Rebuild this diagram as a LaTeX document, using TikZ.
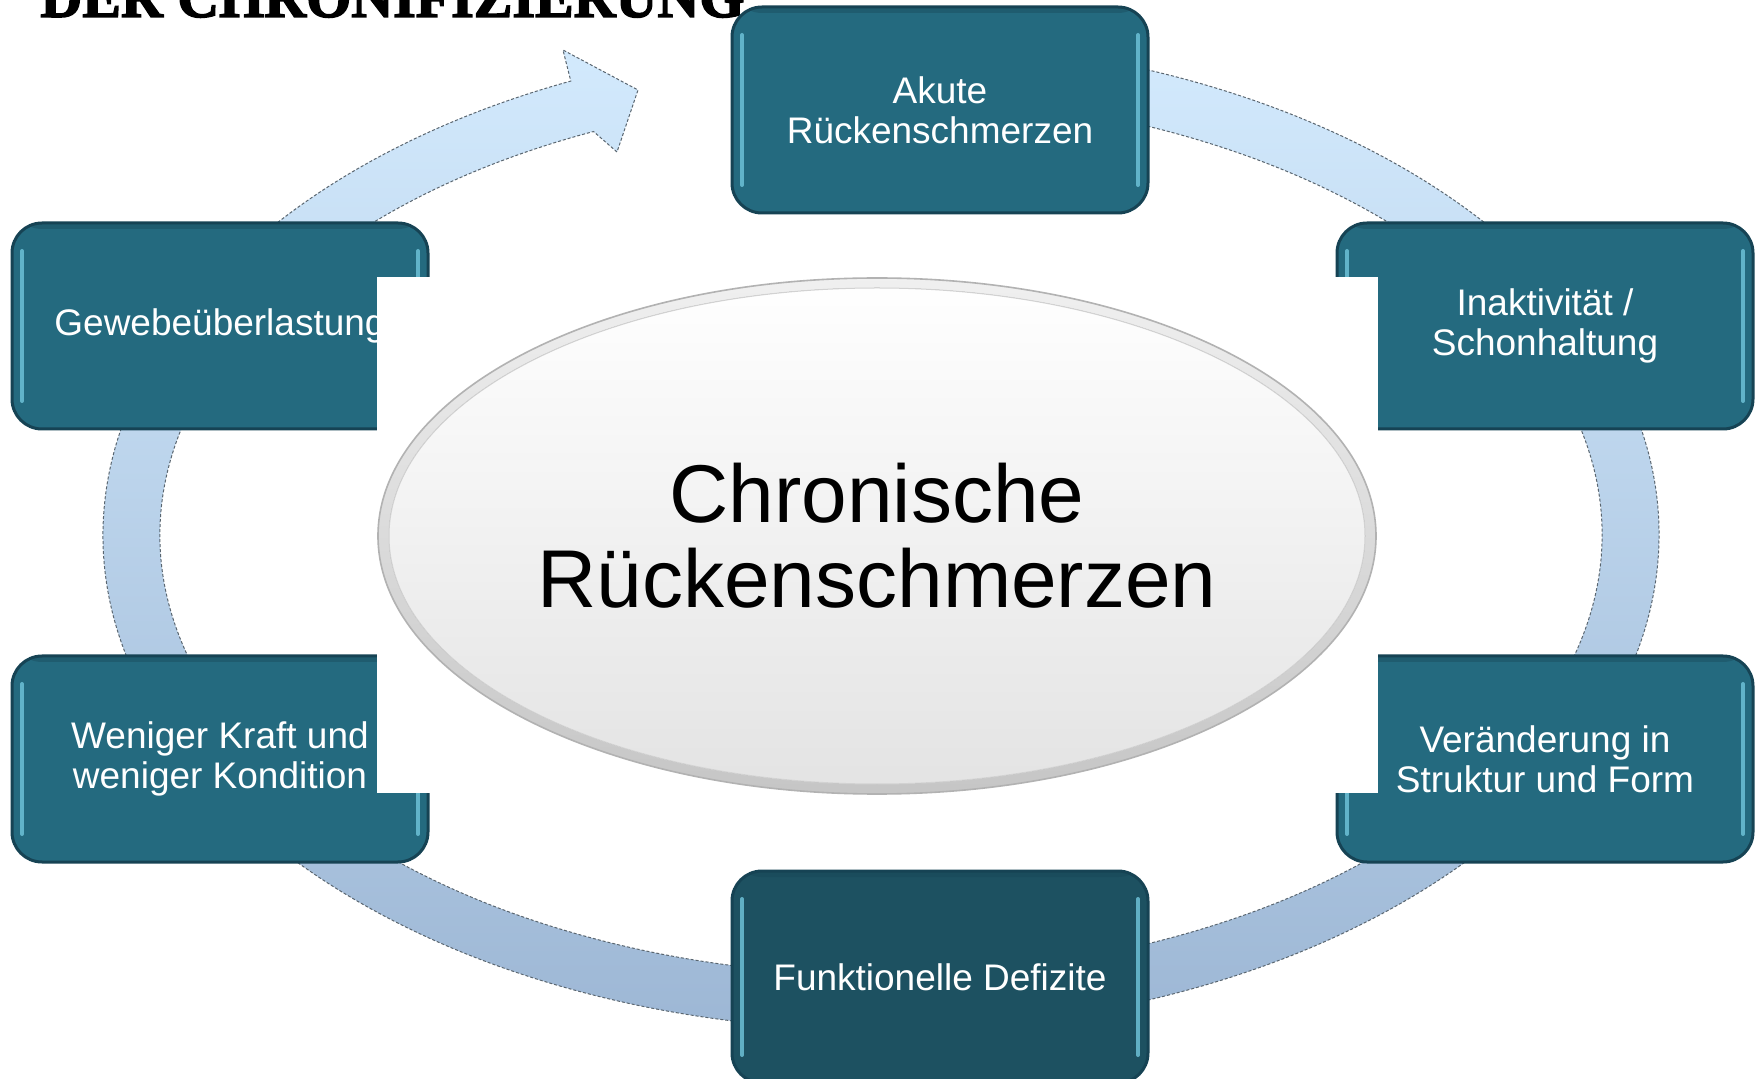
\documentclass[tikz,border=0pt]{standalone}
\usepackage{fontspec}
\setmainfont{Liberation Sans}
\newfontfamily\titlefont{Liberation Serif}[FakeBold=2.5]
\usetikzlibrary{shapes.geometric}
\definecolor{tealmain}{HTML}{246A7F}
\definecolor{tealdeep}{HTML}{1D5161}
\definecolor{tealdark}{HTML}{164354}
\definecolor{tealhl}{HTML}{6CC0D6}
\definecolor{ringtop}{HTML}{D3EAFD}
\definecolor{ringbot}{HTML}{9CB6D4}
\definecolor{ringline}{HTML}{5A6670}
\tikzset{
  bevel/.style={path picture={
    \draw[tealhl, line width=2pt, line cap=round, opacity=0.85]
      ([xshift=5pt,yshift=-14pt]path picture bounding box.north west) --
      ([xshift=5pt,yshift=14pt]path picture bounding box.south west);
    \draw[tealhl, line width=2pt, line cap=round, opacity=0.85]
      ([xshift=-5pt,yshift=-14pt]path picture bounding box.north east) --
      ([xshift=-5pt,yshift=14pt]path picture bounding box.south east);
    \fill[tealdark, opacity=0.35]
      (path picture bounding box.north west) rectangle
      ([yshift=-3pt]path picture bounding box.north east);
  }},
  tealbox/.style={rounded corners=15pt, minimum width=208pt, minimum height=103pt,
    inner sep=0pt, fill=tealmain, draw=tealdark, line width=1.5pt, text=white,
    align=center, font=\fontsize{18.5}{20}\selectfont, bevel},
  ringband/.style={top color=ringtop, bottom color=ringbot, draw=ringline,
    line width=0.5pt, dash pattern=on 1.5pt off 1pt},
  centerellipse/.style={ellipse, minimum width=499pt, minimum height=258pt, inner sep=0pt,
    top color=gray!12, bottom color=gray!45, draw=gray!60, line width=0.8pt,
    align=center, font=\fontsize{41}{42.5}\selectfont,
    path picture={
      \fill[top color=white, bottom color=gray!22]
        (path picture bounding box.center) ellipse [x radius=244pt, y radius=124pt];
      \draw[gray!35, line width=0.5pt]
        (path picture bounding box.center) ellipse [x radius=244pt, y radius=124pt];
    }},
}
\begin{document}
\begin{tikzpicture}[x=0.5pt,y=0.5pt]
\useasboundingbox (0,0) rectangle (1758,1078);
\clip (0,0) rectangle (1758,1078);
\fill[white] (0,0) rectangle (1758,1078);

% clipped title (only its lower part lies inside the picture)
\node[anchor=base west, inner sep=0pt, font=\titlefont\bfseries\fontsize{29}{29}\selectfont] (title) at (40,1061) {DER CHRONIFIZIERUNG};

% ring arrow
\path[ringband] ({881+778*cos(85)},{543+495*sin(85)})
  arc[start angle=85, end angle=-246.5, x radius=778, y radius=495]
  -- (563,1028) -- (638,988) -- (617,926)
  -- ({881+721*cos(-246.5)},{543+440*sin(-246.5)})
  arc[start angle=-246.5, end angle=85, x radius=721, y radius=440]
  -- cycle;

% boxes
\node[tealbox] (akute) at (940,968) {Akute\\Rückenschmerzen};
\node[tealbox] (gewebe) at (220,752) {Gewebeüberlastung};
\node[tealbox] (inakt) at (1545,752) {Inaktivität /\\Schonhaltung};
\node[tealbox] (weniger) at (220,319) {Weniger Kraft und\\weniger Kondition};
\node[tealbox] (veraend) at (1545,319) {Veränderung in\\Struktur und Form};
\node[tealbox, fill=tealdeep, minimum height=106pt] (funkt) at (940,101) {Funktionelle Defizite};

% white background of centre picture
\fill[white] (377,285) rectangle (1378,801);

% centre ellipse
\node[centerellipse] (chron) at (877,542) {Chronische\\Rückenschmerzen};
\end{tikzpicture}
\end{document}
